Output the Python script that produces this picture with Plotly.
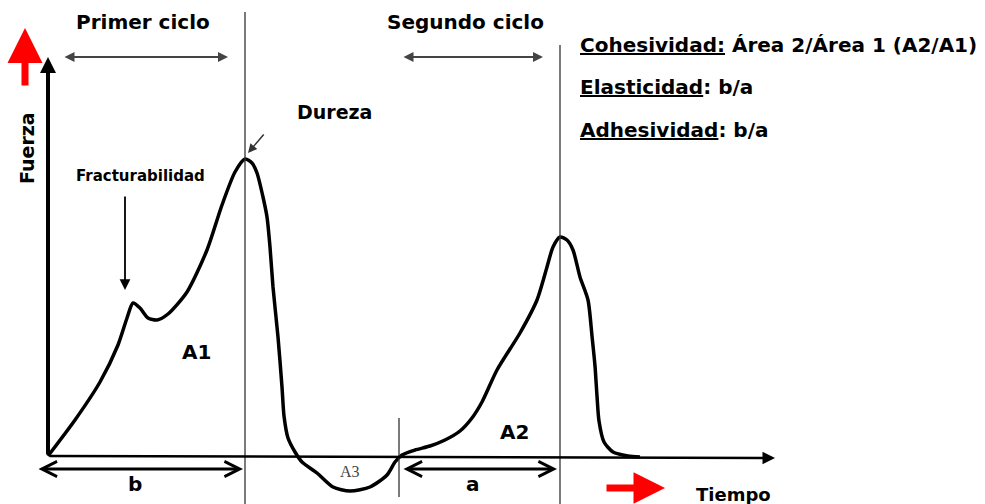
import plotly.graph_objects as go

# Texture profile curve (time, force) — origin at baseline
time_t = [0, 27, 52, 70, 79, 85, 92, 100, 109, 120, 139, 159, 174, 187, 197,
          204, 209, 215, 219, 222, 225, 230, 234, 236, 240, 247, 254, 269, 285, 302,
          322, 339, 347, 354, 367, 382, 397, 412, 424, 434, 449, 472, 489, 499,
          505, 512, 519, 525, 532, 540, 544, 547, 549, 551, 556, 565, 580, 592]
force_f = [0, 36, 74, 111, 138, 153, 148, 138, 136, 142, 164, 206, 251, 284, 297,
           293, 283, 259, 239, 209, 169, 119, 69, 40, 18, 4, -6, -17, -31, -35,
           -31, -19, -6, 1, 6, 10, 16, 25, 38, 54, 86, 123, 156, 189,
           209, 219, 216, 206, 179, 156, 120, 90, 60, 35, 14, 4, 0, -1]

labels = {
    "fuerza": "Fuerza", "tiempo": "Tiempo", "primer": "Primer ciclo",
    "segundo": "Segundo ciclo", "dureza": "Dureza",
    "fract": "Fracturabilidad", "a1": "A1", "a2": "A2", "a3": "A3",
    "a": "a", "b": "b",
}
defs = [
    ("Cohesividad:", " Área 2/Área 1 (A2/A1)"),
    ("Elasticidad", ": b/a"),
    ("Adhesividad", ": b/a"),
]

OX, OY = 48, 456  # pixel of origin (used only to set axis ranges)
W, H = 985, 504

fig = go.Figure()
fig.add_trace(go.Scatter(x=time_t, y=force_f, mode="lines",
                         line=dict(color="black", width=3.5, shape="spline", smoothing=0.7),
                         hoverinfo="skip", showlegend=False))

F = "DejaVu Sans"
def txt(x, y, s, size=18, color="black", weight="bold", family=F, **kw):
    fig.add_annotation(x=x, y=y, text=s, showarrow=False, xref="x", yref="y",
                       font=dict(family=family, size=size, color=color, weight=weight), **kw)

def arrow(x0, y0, x1, y1, color="black", width=2, head=2, size=1, side="end", **kw):
    fig.add_annotation(x=x1, y=y1, ax=x0, ay=y0, xref="x", yref="y", axref="x", ayref="y",
                       text="", showarrow=True, arrowcolor=color, arrowwidth=width,
                       arrowhead=head, arrowsize=size, arrowside=side, startarrowhead=head,
                       startarrowsize=size, **kw)

# axes lines with arrows
arrow(0, 0, 0, 399, width=4, head=2, size=0.8)
arrow(0, 0, 727, -2, width=2.5, head=2, size=1)

# vertical guide lines
fig.add_shape(type="line", x0=197, x1=197, y0=-48, y1=444, line=dict(color="#333", width=1.3))
fig.add_shape(type="line", x0=512, x1=512, y0=-48, y1=411, line=dict(color="#333", width=1.3))
fig.add_shape(type="line", x0=351, x1=351, y0=-41, y1=38, line=dict(color="#333", width=1.3))

# cycle arrows
arrow(15, 399, 180, 399, color="#444", width=2, head=2, size=1, side="end+start")
arrow(354, 399, 495, 399, color="#444", width=2, head=2, size=1, side="end+start")
# a / b arrows
arrow(-11, -13, 195, -13, width=3, head=5, size=1, side="end+start")
arrow(354, -13, 509, -13, width=3, head=5, size=1, side="end+start")

# fracturabilidad & dureza arrows
arrow(77, 261, 77, 166, width=1.8, head=2, size=1.2)
arrow(217, 323, 200, 303, color="#333", width=1.5, head=2, size=1.2)

# red arrows
arrow(-23, 369, -23, 428, color="#ff0000", width=7, head=2, size=1.0)
arrow(557, -32, 617, -32, color="#ff0000", width=7, head=2, size=0.9)

# text
txt(95, 434, labels["primer"], size=20)
txt(417, 434, labels["segundo"], size=20)
txt(286, 344, labels["dureza"], size=19)
txt(92, 280, labels["fract"], size=15)
txt(-21, 308, labels["fuerza"], size=19, textangle=-90)
txt(148, 104, labels["a1"], size=20)
txt(466, 24, labels["a2"], size=20)
txt(302, -15, labels["a3"], size=16, color="#444", weight="normal", family="Liberation Serif")
txt(87, -28, labels["b"], size=20)
txt(425, -28, labels["a"], size=20)
txt(685, -38, labels["tiempo"], size=18)

ys = [411, 369, 326]
for (u, rest), y in zip(defs, ys):
    fig.add_annotation(x=530, y=y, xanchor="left", text=f"<u>{u}</u>{rest}", showarrow=False,
                       xref="x", yref="y", font=dict(family=F, size=20, color="black", weight="bold"))

fig.update_layout(
    width=W, height=H, margin=dict(l=0, r=0, t=0, b=0),
    paper_bgcolor="white", plot_bgcolor="white",
    xaxis=dict(range=[-OX, W - OX], visible=False, fixedrange=True),
    yaxis=dict(range=[-(H - OY), OY], visible=False, fixedrange=True),
)
fig.write_html("out.html", config={"displayModeBar": False},
               post_script="document.body.style.margin='0';document.body.style.overflow='hidden';")
